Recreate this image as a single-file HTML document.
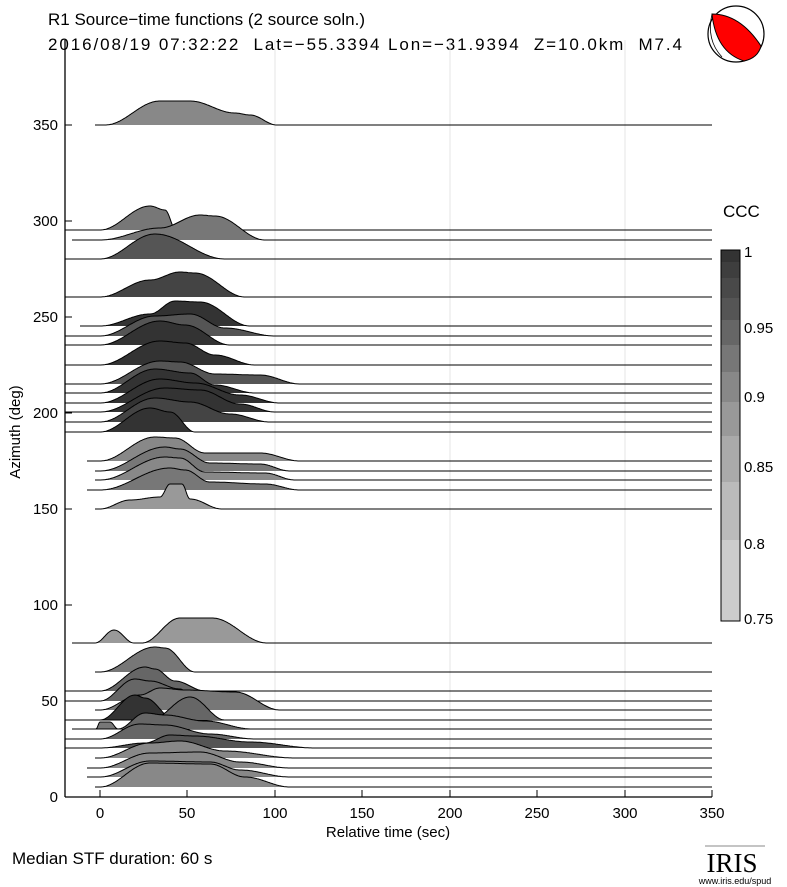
<!DOCTYPE html>
<html><head><meta charset="utf-8"><style>
body{margin:0;background:#fff;width:787px;height:887px;overflow:hidden}
svg{display:block;font-family:"Liberation Sans",sans-serif}
</style></head><body>
<svg id="s" width="787" height="887" viewBox="0 0 787 887" xmlns="http://www.w3.org/2000/svg">
<rect width="787" height="887" fill="#fff"/>
<text x="48" y="25" font-size="17">R1 Source−time functions (2 source soln.)</text>
<text x="48" y="50" font-size="17" style="white-space:pre" textLength="634" lengthAdjust="spacing">2016/08/19 07:32:22  Lat=−55.3394 Lon=−31.9394  Z=10.0km  M7.4</text>
<g stroke="#e4e4e4" stroke-width="1">
<line x1="275" y1="40" x2="275" y2="797"/><line x1="450" y1="40" x2="450" y2="797"/><line x1="625" y1="40" x2="625" y2="797"/>
</g>
<g id="tr"></g>
<g stroke="#000" stroke-width="1.3" fill="none">
<line x1="65" y1="40" x2="65" y2="797"/><line x1="65" y1="797" x2="712" y2="797"/>
</g>
<g stroke="#000" stroke-width="1">
<line x1="65" y1="797" x2="72" y2="797"/><line x1="65" y1="701" x2="72" y2="701"/><line x1="65" y1="605" x2="72" y2="605"/><line x1="65" y1="509" x2="72" y2="509"/><line x1="65" y1="413" x2="72" y2="413"/><line x1="65" y1="317" x2="72" y2="317"/><line x1="65" y1="221" x2="72" y2="221"/><line x1="65" y1="125" x2="72" y2="125"/>
<line x1="100" y1="797" x2="100" y2="790"/><line x1="187" y1="797" x2="187" y2="790"/><line x1="275" y1="797" x2="275" y2="790"/><line x1="362" y1="797" x2="362" y2="790"/><line x1="450" y1="797" x2="450" y2="790"/><line x1="537" y1="797" x2="537" y2="790"/><line x1="625" y1="797" x2="625" y2="790"/><line x1="712" y1="797" x2="712" y2="790"/>
</g>
<g font-size="15" text-anchor="end">
<text x="58" y="802">0</text><text x="58" y="706">50</text><text x="58" y="610">100</text><text x="58" y="514">150</text><text x="58" y="418">200</text><text x="58" y="322">250</text><text x="58" y="226">300</text><text x="58" y="130">350</text>
</g>
<g font-size="15" text-anchor="middle">
<text x="100" y="818">0</text><text x="187" y="818">50</text><text x="275" y="818">100</text><text x="362" y="818">150</text><text x="450" y="818">200</text><text x="537" y="818">250</text><text x="625" y="818">300</text><text x="712" y="818">350</text>
<text x="388" y="837" font-size="15">Relative time (sec)</text>
</g>
<text transform="translate(20,432) rotate(-90)" font-size="15" text-anchor="middle">Azimuth (deg)</text>
<text x="12" y="864" font-size="17">Median STF duration: 60 s</text>
<text x="723" y="217" font-size="17">CCC</text>
<g id="cb"></g>
<rect x="721" y="250" width="19" height="371" fill="none" stroke="#000" stroke-width="1"/>
<g font-size="15">
<text x="744" y="257">1</text><text x="744" y="333">0.95</text><text x="744" y="402">0.9</text><text x="744" y="472">0.85</text><text x="744" y="549">0.8</text><text x="744" y="624">0.75</text>
</g>
<circle cx="736" cy="34" r="28" fill="#fff" stroke="#000" stroke-width="1.2"/>
<path d="M712,14 Q740,14 761,46 Q758,58 744,61 Q716,52 712,14Z" fill="#f00" stroke="#000" stroke-width="1"/>
<path d="M712,14 Q706,40 722,57" fill="none" stroke="#000" stroke-width="0.8"/>
<line x1="705" y1="846" x2="765" y2="846" stroke="#888" stroke-width="1"/>
<text x="732" y="872" font-family="Liberation Serif" font-size="27" text-anchor="middle">IRIS</text>
<text x="735" y="884" font-size="9" text-anchor="middle">www.iris.edu/spud</text>
</svg>
<script>
var NS="http://www.w3.org/2000/svg";
var cb=document.getElementById("cb");
var cols=["#333","#3e3e3e","#494949","#555","#666","#777","#888","#999","#aaa","#bbb","#ccc","#ddd"];
var ys=[250,262,278,298,320,345,372,402,436,482,540,621];
for(var i=0;i<11;i++){var r=document.createElementNS(NS,"rect");r.setAttribute("x",721);r.setAttribute("y",ys[i]);r.setAttribute("width",19);r.setAttribute("height",ys[i+1]-ys[i]+0.5);r.setAttribute("fill",cols[i]);cb.appendChild(r);}
var T=[
[125,95,"#888",[[105,0],[160,24],[190,24],[235,12],[250,10],[277,0]]],
[230,65,"#777",[[100,0],[150,24],[165,20],[176,0]]],
[240,72,"#777",[[100,0],[160,12],[200,25],[215,24],[265,0]]],
[259,65,"#555",[[100,0],[155,25],[225,0]]],
[297,65,"#444",[[100,0],[150,17],[180,25],[195,24],[245,0]]],
[326,80,"#333",[[100,0],[150,12],[175,25],[200,24],[250,0]]],
[336,65,"#555",[[100,0],[155,20],[190,22],[225,8],[275,0]]],
[345,65,"#333",[[100,0],[160,24],[185,20],[230,0]]],
[365,65,"#333",[[100,0],[160,24],[185,22],[215,10],[255,0]]],
[384,65,"#555",[[100,0],[160,23],[180,22],[215,10],[260,9],[300,0]]],
[393,65,"#333",[[100,0],[155,24],[190,20],[215,8],[255,0]]],
[403,65,"#333",[[100,0],[160,24],[195,20],[240,8],[280,0]]],
[412,65,"#333",[[100,0],[165,24],[200,22],[240,8],[275,0]]],
[422,65,"#444",[[100,0],[155,24],[190,20],[230,8],[270,0]]],
[432,65,"#333",[[100,0],[150,24],[170,20],[195,0]]],
[461,87,"#888",[[100,0],[155,24],[175,23],[205,8],[260,8],[300,0]]],
[471,95,"#777",[[100,0],[165,24],[180,22],[210,8],[260,7],[290,0]]],
[480,95,"#888",[[100,0],[165,23],[180,22],[205,8],[265,7],[295,0]]],
[490,87,"#777",[[100,0],[170,22],[185,20],[210,8],[265,6],[300,0]]],
[509,95,"#999",[[100,0],[130,9],[160,12],[170,25],[182,25],[190,10],[222,0]]],
[643,72,"#999",[[95,0],[114,13],[134,0],[142,0],[180,25],[212,25],[267,0]]],
[672,95,"#777",[[100,0],[155,25],[165,24],[195,0]]],
[691,65,"#666",[[100,0],[145,24],[155,22],[175,10],[205,0]]],
[701,65,"#666",[[100,0],[135,22],[150,20],[180,12],[195,0]]],
[710,95,"#777",[[100,0],[140,15],[160,22],[185,20],[235,18],[280,0]]],
[720,65,"#333",[[100,0],[135,25],[145,22],[175,0]]],
[720,65,"#666",[[150,0],[190,23],[225,0]]],
[729,72,"#777",[[96,0],[100,7],[110,7],[118,0]]],
[729,72,"#666",[[118,0],[145,16],[165,14],[205,8],[252,0]]],
[739,65,"#666",[[100,0],[140,15],[165,14],[210,5],[255,0]]],
[748,65,"#555",[[100,0],[145,5],[170,13],[195,12],[250,6],[315,0]]],
[758,95,"#888",[[100,0],[150,15],[180,17],[225,7],[295,0]]],
[768,87,"#888",[[100,0],[150,15],[200,16],[240,6],[290,0]]],
[777,87,"#888",[[100,0],[150,16],[210,15],[240,7],[290,0]]],
[787,95,"#888",[[100,0],[150,24],[210,23],[245,10],[290,0]]]
];
function H(P,x){if(x<=P[0][0]||x>=P[P.length-1][0])return 0;
 for(var i=0;i<P.length-1;i++){var a=P[i],b=P[i+1];if(x>=a[0]&&x<=b[0]){var t=(x-a[0])/(b[0]-a[0]);var m=(1-Math.cos(Math.PI*t))/2;return a[1]+(b[1]-a[1])*m;}}return 0;}
var g=document.getElementById("tr");
T.forEach(function(t){
 var b=t[0],s=t[1],c=t[2],P=t[3];
 var pts=[];
 for(var x=s;x<=712;x+=1){pts.push([x,b-H(P,x)]);}
 var d="M"+s+","+b+" "+pts.map(function(p){return "L"+p[0]+","+p[1].toFixed(1)}).join(" ")+" L712,"+b+" Z";
 var f=document.createElementNS(NS,"path");f.setAttribute("d",d);f.setAttribute("fill",c);g.appendChild(f);
 var l=document.createElementNS(NS,"path");l.setAttribute("d","M"+pts.map(function(p){return p[0]+","+p[1].toFixed(1)}).join(" L"));l.setAttribute("fill","none");l.setAttribute("stroke","#000");l.setAttribute("stroke-width","1");g.appendChild(l);
});
</script>
</body></html>
